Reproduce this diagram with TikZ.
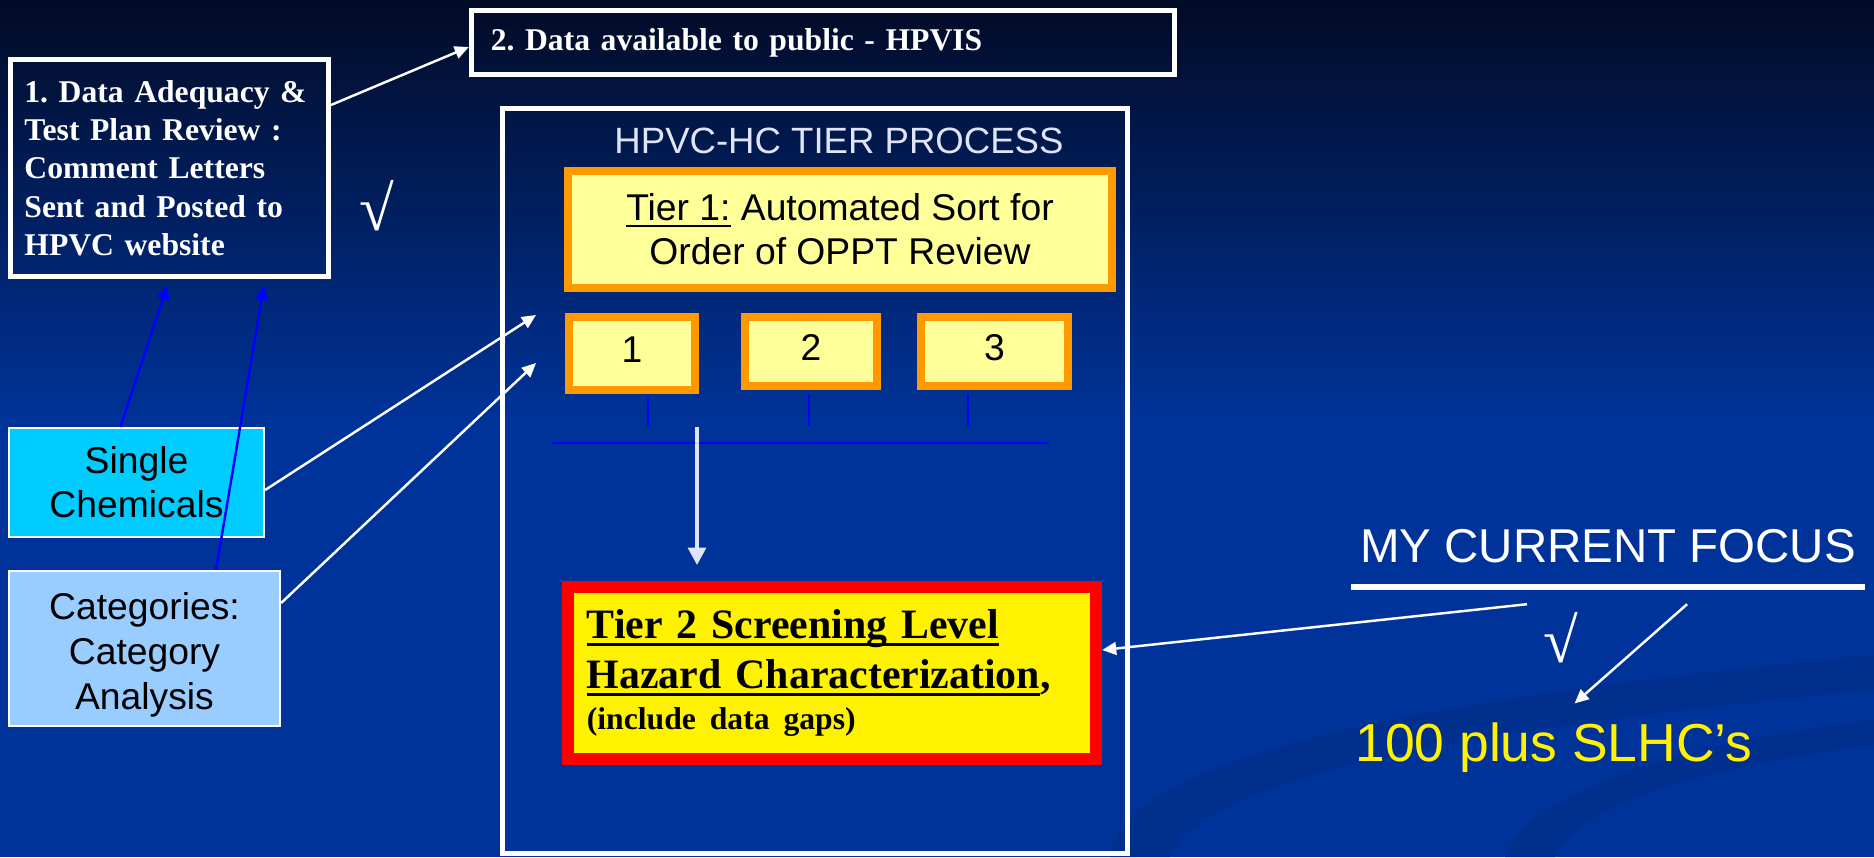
\documentclass[tikz,border=0pt]{standalone}
\usepackage{fontspec}
\setmainfont[WordSpace=0.85]{Liberation Serif}
\setsansfont{Liberation Sans}
\usetikzlibrary{arrows.meta,positioning}

\definecolor{bgtop}{HTML}{020B26}
\definecolor{bgblue}{HTML}{003399}
\definecolor{swoosh}{HTML}{002F8E}
\definecolor{tierorange}{HTML}{FF9900}
\definecolor{paleyellow}{HTML}{FFFF99}
\definecolor{chemcyan}{HTML}{00CCFF}
\definecolor{catblue}{HTML}{99CCFF}
\definecolor{lavender}{HTML}{E0E4F8}

\newcommand{\thickul}[1]{\leavevmode\setbox0\hbox{#1}\rlap{\rule[-2.2pt]{\wd0}{0.85pt}}\box0}
\frenchspacing

\begin{document}
\begin{tikzpicture}[x=0.01cm,y=-0.01cm,
  whitebox/.style={draw=white,line width=1.4pt,inner sep=0pt,text=white,align=left,
    font=\fontsize{9}{10.9}\selectfont\bfseries},
  orangebox/.style={draw=tierorange,fill=paleyellow,line width=2.3pt,inner sep=0pt,
    font=\sffamily\fontsize{10.6}{12.5}\selectfont},
  numbox/.style={orangebox,text depth=2.4pt},
  chembox/.style={draw=white,line width=0.6pt,inner sep=0pt,align=center},
  whitearrow/.style={draw=white,line width=0.7pt,-{Triangle[length=4pt,width=3.6pt]}},
  bluearrow/.style={draw=blue,line width=0.7pt,-{Triangle[length=4pt,width=3.6pt]}},
  bluetick/.style={draw=blue,line width=0.6pt},
  downarrow/.style={draw=lavender,line width=1.4pt,-{Triangle[length=5pt,width=5pt]}},
  checkmark/.style={text=white,inner sep=0pt,font=\fontsize{18}{18}\selectfont}]

\useasboundingbox (0,0) rectangle (1874,857);
\shade[top color=bgtop,bottom color=bgblue] (0,0) rectangle (1874,420);
\fill[bgblue] (0,420) rectangle (1874,857);
\fill[swoosh] (1110,857) .. controls (1120,760) and (1400,700) .. (1874,655)
  -- (1874,690) .. controls (1450,730) and (1200,780) .. (1170,857) -- cycle;
\fill[swoosh] (1505,857) .. controls (1525,790) and (1700,740) .. (1874,720)
  -- (1874,745) .. controls (1720,765) and (1580,800) .. (1555,857) -- cycle;

\node[whitebox,minimum width=3.18cm,minimum height=2.17cm,text width=2.9cm] (adequacy) at (169.5,168)
  {1. Data Adequacy \&\\Test Plan Review :\\Comment Letters\\Sent and Posted to\\HPVC website};
\node[whitebox,minimum width=7.03cm,minimum height=0.64cm,text width=6.64cm] (hpvis) at (823,42.5)
  {2. Data available to public - HPVIS};
\draw[whitearrow] ([yshift=0.63cm]adequacy.east) -- ([yshift=-0.045cm]hpvis.west);

\node[draw=white,line width=1.4pt,minimum width=6.25cm,minimum height=7.45cm] (process) at (815,481) {};
\node[text=lavender,inner sep=0pt,anchor=base,font=\sffamily\fontsize{10.4}{12}\selectfont] (title) at (839,153)
  {HPVC-HC TIER PROCESS};

\node[orangebox,minimum width=5.44cm,minimum height=1.17cm,align=center] (tierone) at (840,229.5)
  {\underline{Tier 1:} Automated Sort for\\Order of OPPT Review};
\node[numbox,minimum width=1.26cm,minimum height=0.73cm] (sortone) at (632,353.5) {1};
\node[numbox,minimum width=1.32cm,minimum height=0.69cm] (sorttwo) at (811,351.5) {2};
\node[numbox,minimum width=1.47cm,minimum height=0.69cm] (sortthree) at (994.5,351.5) {3};

\coordinate (busw) at (552,443);
\coordinate (buse) at (1049,443);
\draw[bluetick] (busw) -- (buse);
\foreach \n/\x in {sortone/648,sorttwo/809,sortthree/968}{
  \coordinate (tick) at (\x,426);
  \draw[bluetick,shorten <=1.15pt] (\n.south -| tick) -- (tick);
}

\node[draw=red,line width=3.4pt,fill=yellow,inner sep=0pt,minimum width=5.28cm,minimum height=1.72cm,
  text width=4.9cm,align=left,font=\fontsize{11.9}{14.2}\selectfont\bfseries] (tiertwo) at (832,673)
  {\thickul{Tier 2 Screening Level}\\\thickul{Hazard Characterization},\\[-2.5pt]
   {\fontsize{9}{10}\selectfont(include data gaps)}};

\coordinate (drop) at (697,427);
\draw[downarrow,shorten >=4.5pt] (drop) -- (drop |- tiertwo.north);

\node[chembox,fill=chemcyan,minimum width=2.55cm,minimum height=1.09cm,
  font=\sffamily\fontsize{10.6}{12.5}\selectfont] (single) at (136.5,482.5) {Single\\Chemicals};
\node[chembox,fill=catblue,minimum width=2.71cm,minimum height=1.55cm,
  font=\sffamily\fontsize{10.6}{12.8}\selectfont] (category) at (144.5,648.5)
  {\rule{0pt}{11.2pt}Categories:\\Category\\Analysis};

\draw[bluearrow,shorten >=1.9pt] ([xshift=-0.16cm]single.north) -- (adequacy.south);
\draw[bluearrow,shorten >=1.9pt] ([xshift=0.715cm]category.north) -- ([xshift=0.955cm]adequacy.south);

\coordinate (inone) at (536,315);
\coordinate (intwo) at (536,363);
\draw[whitearrow] ([yshift=-0.075cm]single.east) -- (inone);
\draw[whitearrow] ([yshift=0.455cm]category.east) -- (intwo);

\node[checkmark] (checkone) at (377,206) {√};

\node[text=white,inner xsep=0pt,inner ysep=0.24cm,minimum width=5.12cm,anchor=base,
  font=\sffamily\fontsize{13.5}{16}\selectfont] (focus) at (1608,562) {MY CURRENT FOCUS};
\draw[white,line width=1.6pt] (focus.south west) -- (focus.south east);
\node[text=yellow,inner sep=0pt,anchor=base,font=\sffamily\fontsize{15.2}{18}\selectfont] (slhc) at (1554,761)
  {100 plus SLHC’s};
\node[checkmark] (checktwo) at (1561,638) {√};

\draw[whitearrow] ([xshift=-0.81cm,yshift=-0.17cm]focus.south) -- ([yshift=0.23cm]tiertwo.east);
\draw[whitearrow,shorten >=7.8pt] ([xshift=0.79cm,yshift=-0.17cm]focus.south) -- (slhc.north);

%\node[text=white] at (1600,820) {};
\end{tikzpicture}
\end{document}
